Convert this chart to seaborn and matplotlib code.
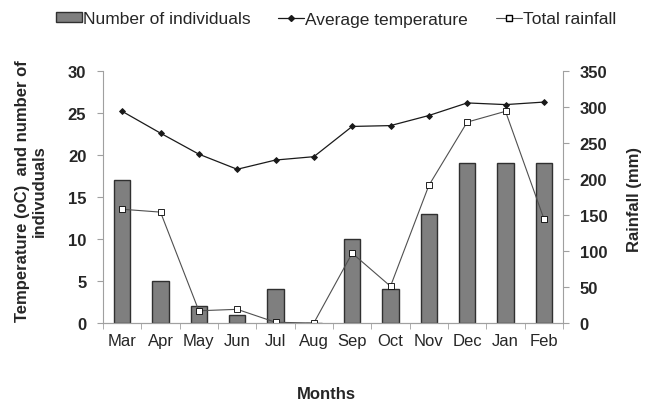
import numpy as np
import pandas as pd
import seaborn as sns
from matplotlib import pyplot as plt
from matplotlib.lines import Line2D
from matplotlib.patches import Patch

months = ["Mar", "Apr", "May", "Jun", "Jul", "Aug", "Sep", "Oct", "Nov", "Dec", "Jan", "Feb"]
individuals = [17, 5, 2, 1, 4, 0, 10, 4, 13, 19, 19, 19]
temperature = [25.2, 22.6, 20.1, 18.3, 19.4, 19.8, 23.4, 23.5, 24.7, 26.2, 26.0, 26.3]
rainfall = [158, 154, 17, 19, 1, 0, 97, 51, 191, 279, 294, 145]

df = pd.DataFrame(
    {"month": months, "individuals": individuals, "temperature": temperature, "rainfall": rainfall}
)

sns.set_style("white")
plt.rcParams["font.family"] = ["Liberation Sans", "DejaVu Sans"]

spine_col = "#a0a0a0"
bar_col = "#7f7f7f"
fs = 12

fig = plt.figure(figsize=(6.47, 4.06), dpi=100)
ax = fig.add_axes([103 / 647, 1 - 324 / 406, 460 / 647, 252 / 406])

sns.barplot(
    data=df, x="month", y="individuals", ax=ax, color=bar_col,
    width=0.42, edgecolor="#303030", linewidth=1.0, saturation=1,
)
sns.pointplot(
    data=df, x="month", y="temperature", ax=ax, color="#1a1a1a",
    markers="D", markersize=3, linewidth=0.9, errorbar=None,
)

ax2 = ax.twinx()
sns.pointplot(
    data=df, x="month", y="rainfall", ax=ax2, color="#505050",
    markers="s", markersize=4, linewidth=0.8, errorbar=None,
    markerfacecolor="white", markeredgecolor="black",
)

ax.set_xlim(-0.5, len(months) - 0.5)
ax.set_ylim(0, 30)
ax.set_yticks(range(0, 31, 5))
ax2.set_ylim(0, 350)
ax2.set_yticks(range(0, 351, 50))

ax.set_xticks(np.arange(len(months)))
ax.set_xticklabels(months, fontsize=fs)
ax.set_xticks(np.arange(-0.5, len(months), 1), minor=True)
ax.tick_params(axis="x", which="major", length=0, pad=7)
ax.tick_params(axis="x", which="minor", length=4, color=spine_col, direction="out", bottom=True)
ax.tick_params(axis="y", length=4, color=spine_col, direction="out", left=True, pad=8)
ax2.tick_params(axis="y", length=4, color=spine_col, direction="out", right=True, pad=8)

for lab in ax.get_yticklabels() + ax2.get_yticklabels():
    lab.set_fontweight("bold")
    lab.set_fontsize(fs)

for a in (ax, ax2):
    a.spines["top"].set_visible(False)
    for s in ("left", "right", "bottom"):
        a.spines[s].set_color(spine_col)
ax.spines["right"].set_visible(False)
ax2.spines["left"].set_visible(False)

ax.set_xlabel("")
ax.set_ylabel("")
ax2.set_ylabel("")
fig.text(326 / 647, 1 - 395 / 406, "Months", ha="center", va="center",
         fontsize=fs, fontweight="bold")
fig.text(31 / 647, 1 - 191 / 406, "Temperature (oC)  and number of\nindivuduals",
         ha="center", va="center", rotation=90, fontsize=fs, fontweight="bold",
         linespacing=1.15)
fig.text(635 / 647, 1 - 200 / 406, "Rainfall (mm)", ha="center", va="center",
         rotation=90, fontsize=fs, fontweight="bold")

handles = [
    Patch(facecolor=bar_col, edgecolor="#303030"),
    Line2D([], [], color="#1a1a1a", marker="D", markersize=3, linewidth=0.9),
    Line2D([], [], color="#505050", marker="s", markersize=4, linewidth=0.8,
           markerfacecolor="white", markeredgecolor="black"),
]
fig.legend(
    handles, ["Number of individuals", "Average temperature", "Total rainfall"],
    loc="center", bbox_to_anchor=(336 / 647, 1 - 20 / 406), ncol=3, frameon=False,
    fontsize=12.5, handlelength=1.5, handleheight=0.5, handletextpad=0.05,
    columnspacing=1.6, borderpad=0, borderaxespad=0,
)

fig.savefig("out.png", dpi=100)
